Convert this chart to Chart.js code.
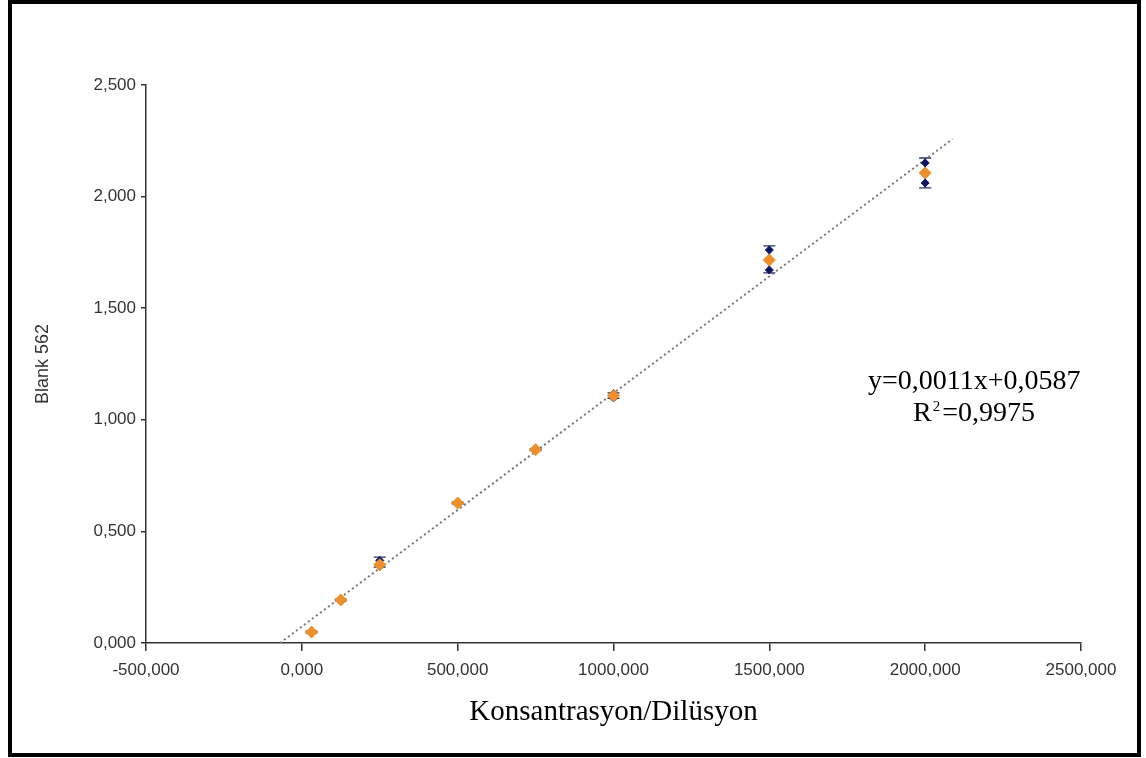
<!DOCTYPE html>
<html>
<head>
<meta charset="utf-8">
<script src="https://cdn.jsdelivr.net/npm/chart.js@4.4.1/dist/chart.umd.min.js"></script>
<style>
  html, body { margin: 0; padding: 0; background: #fff; }
  #wrap { position: absolute; left: 0; top: 0; width: 1146px; height: 758px; }
</style>
</head>
<body>
<div id="wrap"><canvas id="c" width="1146" height="758"></canvas></div>
<script>
// ---- data ----
const concentrations = [31.25, 125, 250, 500, 750, 1000, 1500, 2000];
const meanAbs  = [0.049, 0.193, 0.351, 0.627, 0.866, 1.108, 1.716, 2.106];
const rep1     = [0.047, 0.191, 0.370, 0.625, 0.868, 1.118, 1.761, 2.151];
const rep2     = [0.051, 0.195, 0.343, 0.629, 0.864, 1.098, 1.671, 2.061];
const errLow   = [0.045, 0.189, 0.340, 0.623, 0.862, 1.096, 1.658, 2.039];
const errHigh  = [0.053, 0.197, 0.385, 0.631, 0.870, 1.121, 1.779, 2.173];
const trendX   = [-70, 2088];
const trendY   = [0, 2.258];
const xTicks   = [-500, 0, 500, 1000, 1500, 2000, 2500];
const yTicks   = [0, 0.5, 1.0, 1.5, 2.0, 2.5];
const xTitle   = "Konsantrasyon/Dilüsyon";
const yTitle   = "Blank 562";
const eqLine1  = "y=0,0011x+0,0587";
const eqR      = "R";
const eqSup    = "2";
const eqRest   = "=0,9975";

const fmt = v => v.toFixed(3).replace('.', ',');
const pts = (xs, ys) => xs.map((x, i) => ({x: x, y: ys[i]}));

const NAVY = '#0d1566';
const ORANGE = '#ee8f2a';
const SERIF = "'Liberation Serif', 'Times New Roman', serif";

const framePlugin = {
  id: 'frame',
  afterDraw(chart) {
    const ctx = chart.ctx;
    ctx.save();
    ctx.strokeStyle = '#000';
    ctx.lineWidth = 4;
    ctx.strokeRect(10, 2, 1129, 753);
    // equation text
    ctx.fillStyle = '#000';
    ctx.textAlign = 'left';
    ctx.textBaseline = 'alphabetic';
    ctx.font = "28px " + SERIF;
    ctx.fillText(eqLine1, 868, 389);
    let x = 913;
    ctx.fillText(eqR, x, 421);
    x += ctx.measureText(eqR).width + 1;
    ctx.font = "15px " + SERIF;
    ctx.fillText(eqSup, x, 411);
    x += ctx.measureText(eqSup).width + 2;
    ctx.font = "28px " + SERIF;
    ctx.fillText(eqRest, x, 421);
    ctx.restore();
  }
};

const errorBarPlugin = {
  id: 'errbars',
  beforeDatasetsDraw(chart) {
    const ctx = chart.ctx;
    const xs = chart.scales.x, ys = chart.scales.y;
    ctx.save();
    ctx.strokeStyle = '#2a2f6a';
    ctx.lineWidth = 1.3;
    concentrations.forEach((c, i) => {
      const px = xs.getPixelForValue(c);
      const y1 = ys.getPixelForValue(errLow[i]);
      const y2 = ys.getPixelForValue(errHigh[i]);
      ctx.beginPath();
      ctx.moveTo(px, y1); ctx.lineTo(px, y2);
      ctx.moveTo(px - 6, y1); ctx.lineTo(px + 6, y1);
      ctx.moveTo(px - 6, y2); ctx.lineTo(px + 6, y2);
      ctx.stroke();
    });
    ctx.restore();
  }
};

new Chart(document.getElementById('c'), {
  type: 'scatter',
  data: {
    datasets: [
      {
        label: 'trend',
        data: pts(trendX, trendY),
        showLine: true,
        borderColor: '#777',
        borderWidth: 2,
        borderDash: [2, 3],
        pointRadius: 0,
        order: 3
      },
      {
        label: 'rep1',
        data: pts(concentrations, rep1),
        pointStyle: 'rectRot',
        pointRadius: 4,
        backgroundColor: NAVY,
        borderColor: NAVY,
        borderWidth: 1,
        order: 2
      },
      {
        label: 'rep2',
        data: pts(concentrations, rep2),
        pointStyle: 'rectRot',
        pointRadius: 4,
        backgroundColor: NAVY,
        borderColor: NAVY,
        borderWidth: 1,
        order: 2
      },
      {
        label: 'mean',
        data: pts(concentrations, meanAbs),
        pointStyle: 'rectRot',
        pointRadius: 6,
        backgroundColor: ORANGE,
        borderColor: ORANGE,
        borderWidth: 1,
        order: 0
      }
    ]
  },
  options: {
    responsive: false,
    animation: false,
    events: [],
    layout: { padding: { left: 0, right: 65, top: 85, bottom: 0 } },
    plugins: { legend: { display: false }, tooltip: { enabled: false } },
    scales: {
      x: {
        type: 'linear',
        min: -500, max: 2500,
        afterFit: s => { s.height = 115; },
        afterBuildTicks: s => { s.ticks = xTicks.map(v => ({value: v})); },
        border: { display: true, color: '#333', width: 1.5 },
        grid: { display: true, drawOnChartArea: false, drawTicks: true, tickLength: 8, color: '#333', lineWidth: 1.5 },
        ticks: {
          color: '#333',
          padding: 9,
          maxRotation: 0,
          font: { family: "'Liberation Sans', Arial, sans-serif", size: 17 },
          callback: v => fmt(v)
        },
        title: {
          display: true,
          text: xTitle,
          color: '#000',
          font: { family: SERIF, size: 29 },
          padding: { top: 0, bottom: 28 }
        }
      },
      y: {
        type: 'linear',
        min: 0, max: 2.5,
        afterFit: s => { s.width = 146; },
        afterBuildTicks: s => { s.ticks = yTicks.map(v => ({value: v})); },
        border: { display: true, color: '#333', width: 1.5 },
        grid: { display: true, drawOnChartArea: false, drawTicks: true, tickLength: 5, color: '#333', lineWidth: 1.5 },
        ticks: {
          color: '#333',
          padding: 5,
          font: { family: "'Liberation Sans', Arial, sans-serif", size: 17 },
          callback: v => fmt(v)
        },
        title: {
          display: true,
          text: yTitle,
          color: '#333',
          font: { family: "'Liberation Sans', Arial, sans-serif", size: 18 },
          padding: { top: 32, bottom: 0 }
        }
      }
    }
  },
  plugins: [errorBarPlugin, framePlugin]
});
</script>
</body>
</html>
